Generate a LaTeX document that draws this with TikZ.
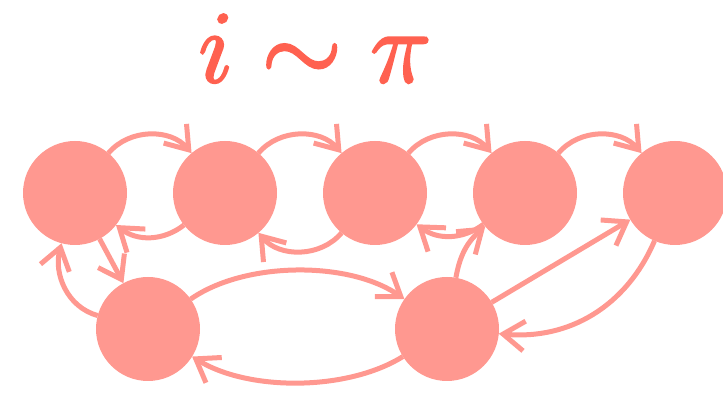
\RequirePackage{fix-cm}
\documentclass[tikz,border=0pt]{standalone}
\usetikzlibrary{arrows.meta}
\definecolor{nodefill}{RGB}{255,152,144}
\definecolor{titlecol}{RGB}{255,97,80}
\begin{document}
\begin{tikzpicture}[x=1pt,y=1pt,
  state/.style={circle, fill=nodefill, minimum size=104pt, inner sep=0pt, outer sep=0pt},
  link/.style={draw=nodefill, line width=5pt, -{Straight Barb[angle=70:26pt]}}]
\useasboundingbox (0,0) rectangle (723,395);
\node[text=titlecol, anchor=base, inner sep=0pt, font=\fontsize{103}{110}\selectfont] (title) at (315,313) {\special{pdf:literal direct 2 Tr 2.4 w}$i \sim \pi$\special{pdf:literal direct 0 Tr 1 w}};
\node[state] (n1) at (75,202) {};
\node[state] (n2) at (225,202) {};
\node[state] (n3) at (375,202) {};
\node[state] (n4) at (525,202) {};
\node[state] (n5) at (675,202) {};
\node[state] (b1) at (148,66) {};
\node[state] (b2) at (447,66) {};
\draw[link] (n1) to[bend left=50] (n2);
\draw[link] (n2) to[bend left=50] (n3);
\draw[link] (n3) to[bend left=50] (n4);
\draw[link] (n4) to[bend left=50] (n5);
\draw[link] (n2) to[bend left=38] (n1);
\draw[link] (n3) to[bend left=50] (n2);
\draw[link] (n4) to[bend left=37] (n3);
\draw[link] (n1) -- (b1);
\draw[link] (b1) to[out=165,in=-105] (n1);
\draw[link] (b1) to[bend left=35, looseness=0.8] (b2);
\draw[link] (b2) to[bend left=32, looseness=0.8] (b1);
\draw[link] (b2) to[bend left=20] (n4);
\draw[link] (b2) -- (n5);
\draw[link] (n5) to[bend left=36] (b2);
\end{tikzpicture}
\end{document}
